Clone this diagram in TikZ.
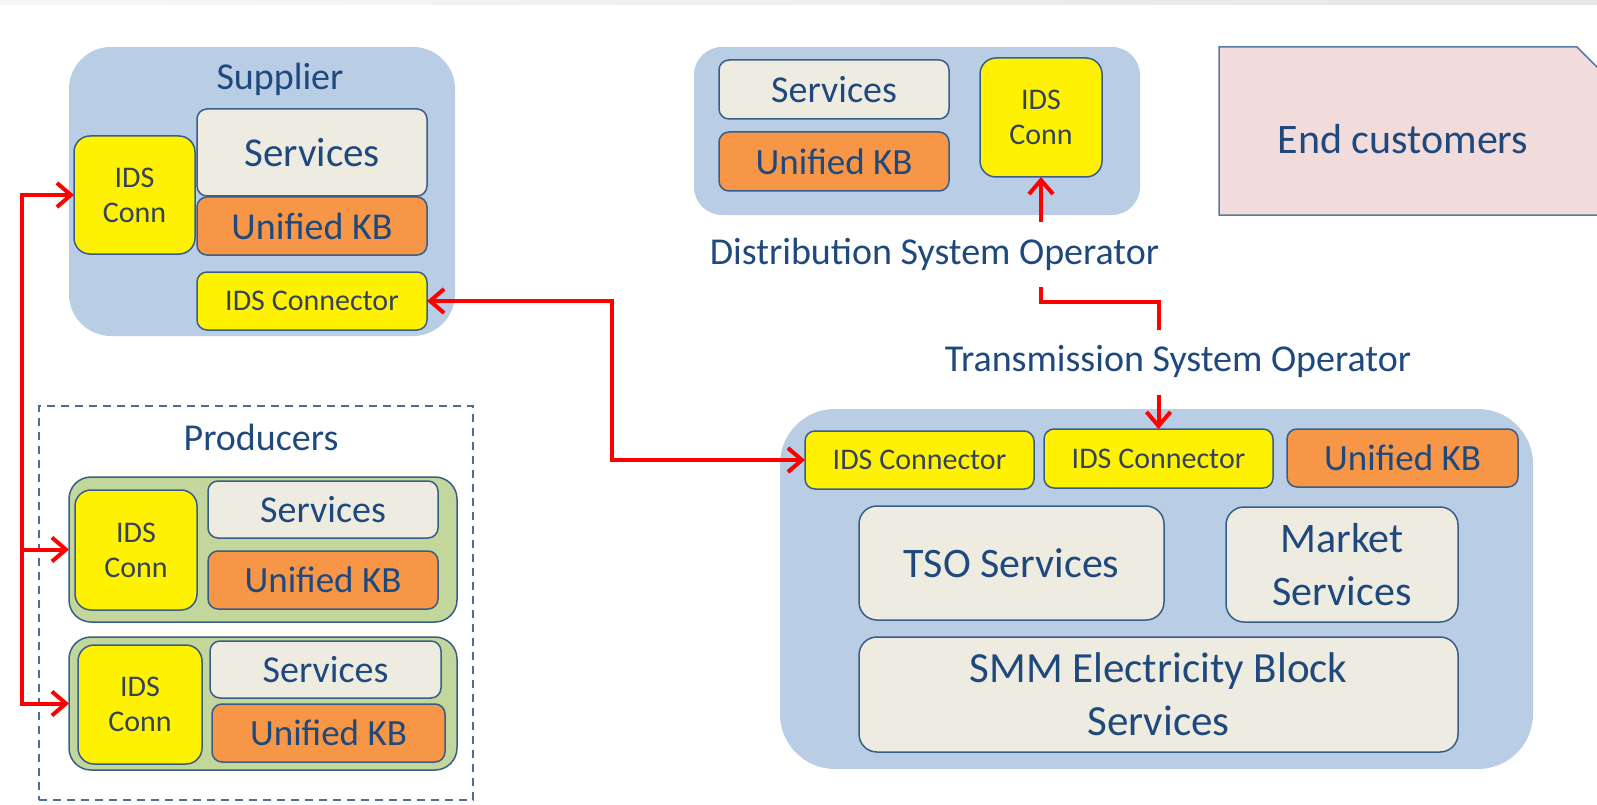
\documentclass[tikz,border=0pt]{standalone}
\usepackage{fontspec}
\setmainfont{Carlito}
\usetikzlibrary{arrows.meta,calc}
\definecolor{contblue}{RGB}{185,205,229}
\definecolor{bordc}{RGB}{56,93,138}
\definecolor{txtblue}{RGB}{31,73,125}
\definecolor{idstxt}{RGB}{52,67,90}
\definecolor{svcfill}{RGB}{238,236,225}
\definecolor{kbfill}{RGB}{247,150,70}
\definecolor{prodgreen}{RGB}{195,214,155}
\definecolor{ecfill}{RGB}{242,220,219}
\definecolor{ecline}{RGB}{85,122,168}
\definecolor{dashc}{RGB}{79,108,148}
\begin{document}
\begin{tikzpicture}[x=1pt,y=-1pt,
  every node/.style={inner sep=0pt, outer sep=0pt},
  fs/.style 2 args={font=\fontsize{#1}{#2}\selectfont},
  wh/.style 2 args={minimum width=#1pt, minimum height=#2pt},
  cont/.style={fill=contblue},
  boxbase/.style={draw=bordc, line width=1.5pt, text=txtblue, align=center},
  svc/.style={boxbase, fill=svcfill, rounded corners=10pt},
  kb/.style={boxbase, fill=kbfill, rounded corners=10pt},
  ids/.style={boxbase, fill=yellow, text=idstxt, rounded corners=10pt},
  idsc/.style={ids, rounded corners=16pt},
  greenbox/.style={fill=prodgreen, draw=bordc, line width=1.5pt, rounded corners=22pt},
  lbl/.style={text=txtblue, fs={38}{46}, text height=27pt, text depth=8pt, minimum height=65pt},
  redline/.style={draw=red, line width=4pt},
  >={Straight Barb[length=14pt,width=24pt]},
]
\useasboundingbox (0,0) rectangle (1597,805);
\clip (0,0) rectangle (1597,805);
\shade[left color=white!97!black, right color=white!90!black] (0,0) rectangle (1597,5);

% Supplier
\node[cont, rounded corners=42pt, wh={386}{289}] (sup) at (262,191.5) {};
\node[text=txtblue, fs={38}{46}, anchor=base] (supT) at (280,90) {Supplier};
\node[idsc, fs={30}{35}, wh={121}{118}] (supIDS) at (134.5,195) {IDS\\Conn};
\node[svc, fs={41}{49}, wh={230}{87}] (supSvc) at (312,152.5) {Services};
\node[kb, fs={38}{46}, wh={230}{58}] (supKB) at (312,226) {Unified KB};
\node[ids, fs={30}{36}, wh={230}{58}] (supConn) at (312,301) {IDS Connector};

% Producers
\node[draw=dashc, line width=1.8pt, dash pattern=on 8pt off 6pt, wh={434}{394}] (prod) at (256,603) {};
\node[text=txtblue, fs={38}{46}, anchor=base] (prodT) at (261,450) {Producers};
\node[greenbox, wh={388}{145}] (p1) at (263,549.5) {};
\node[idsc, fs={30}{35}, wh={122}{120}] (p1IDS) at (136,550) {IDS\\Conn};
\node[svc, fs={38}{46}, wh={230}{57}] (p1Svc) at (323,509.5) {Services};
\node[kb, fs={37}{44}, wh={230}{58}] (p1KB) at (323,580) {Unified KB};
\node[greenbox, wh={388}{133}] (p2) at (263,703.5) {};
\node[idsc, fs={30}{35}, wh={124}{119}] (p2IDS) at (140,704.5) {IDS\\Conn};
\node[svc, fs={38}{46}, wh={231}{57}] (p2Svc) at (325.5,669.5) {Services};
\node[kb, fs={37}{44}, wh={233}{58}] (p2KB) at (328.5,733) {Unified KB};

% DSO
\node[cont, rounded corners=28pt, wh={446}{168}] (dso) at (917,131) {};
\node[svc, fs={38}{46}, wh={230}{59}] (dsoSvc) at (834,89.5) {Services};
\node[kb, fs={37}{44}, wh={230}{59}] (dsoKB) at (834,161.5) {Unified KB};
\node[idsc, fs={30}{35}, wh={122}{119}] (dsoIDS) at (1041,117.5) {IDS\\Conn};
\node[lbl] (dsoLabel) at (934.5,254.5) {Distribution System Operator};

% End customers
\path[fill=ecfill, draw=ecline, line width=1.5pt] (1219,47) -- (1577,47) -- (1660,130) -- (1660,215) -- (1219,215) -- cycle;
\node[text=txtblue, fs={42}{50}] (ec) at (1403,139) {End customers};

% TSO
\node[cont, rounded corners=55pt, wh={753}{360}] (tso) at (1156.5,589) {};
\node[ids, fs={30}{36}, wh={229}{58}] (tsoC1) at (919.5,460) {IDS Connector};
\node[ids, fs={30}{36}, wh={229}{59}] (tsoC2) at (1158.5,458.5) {IDS Connector};
\node[kb, fs={37}{44}, wh={231}{58}] (tsoKB) at (1402.5,458) {Unified KB};
\node[svc, fs={42}{53}, rounded corners=18pt, wh={305}{114}] (tsoSvc) at (1011.5,563) {TSO Services};
\node[svc, fs={42}{53}, rounded corners=18pt, wh={232}{115}] (mktSvc) at (1342,564.5) {Market\\Services};
\node[svc, fs={43}{53}, rounded corners=18pt, wh={599}{115}] (smm) at (1158.5,694.5) {SMM Electricity Block\\Services};
\node[lbl] (tsoLabel) at (1178,362) {Transmission System Operator};

% connectors
\coordinate (bus) at ($(supIDS.west)+(-52,0)$);
\draw[redline, <->] (supIDS.west) -- (bus) |- (p1.west);
\draw[redline, ->] (bus) |- (p2.west);
\draw[redline, <->] (supConn.east) -- ++(185,0) |- (tsoC1.west);
\draw[redline, ->] (dsoLabel.north -| dsoIDS.south) -- (dsoIDS.south);
\draw[redline] (dsoLabel.south -| dsoIDS.south) -- ++(0,15) -| (tsoLabel.north -| tsoC2.north);
\draw[redline, ->] (tsoLabel.south -| tsoC2.north) -- (tsoC2.north);
\end{tikzpicture}
\end{document}
